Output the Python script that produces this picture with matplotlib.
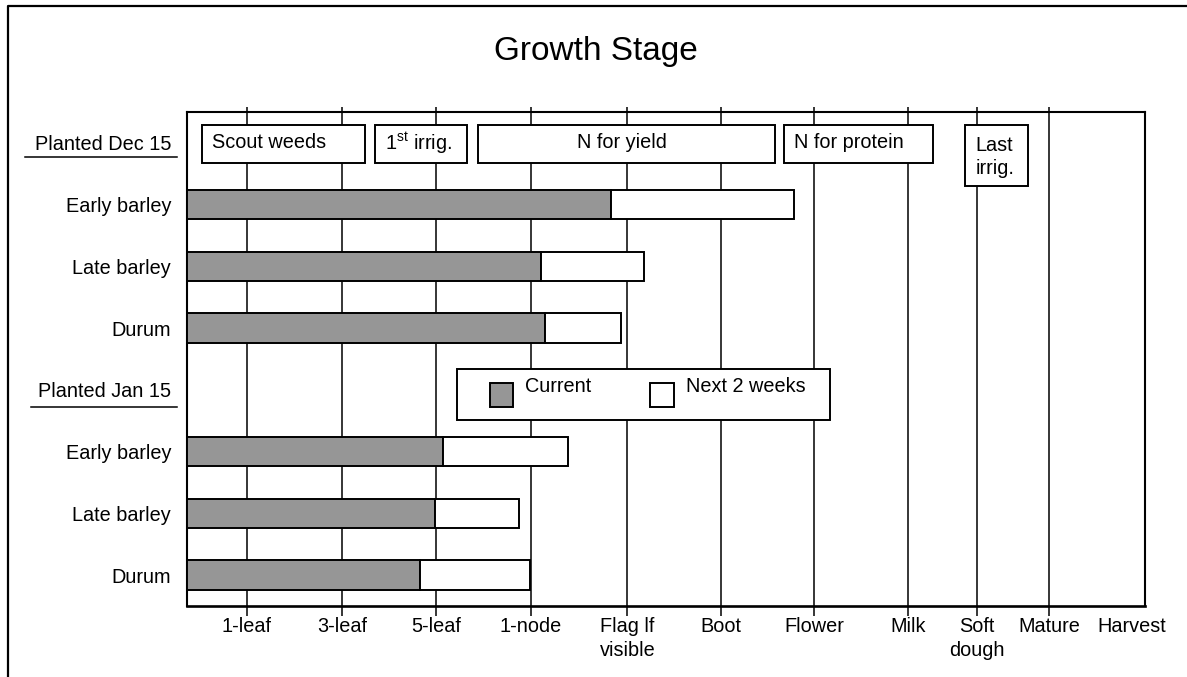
import matplotlib
matplotlib.use("Agg")
import matplotlib.pyplot as plt
from matplotlib.patches import Rectangle
from matplotlib.lines import Line2D

plt.rcParams['font.family'] = ['Liberation Sans', 'DejaVu Sans']
plt.rcParams['mathtext.fontset'] = 'custom'
plt.rcParams['mathtext.rm'] = 'Liberation Sans'
plt.rcParams['mathtext.it'] = 'Liberation Sans:italic'

# ---------------- data ----------------
stages = ["1-leaf", "3-leaf", "5-leaf", "1-node", "Flag lf\nvisible", "Boot",
          "Flower", "Milk", "Soft\ndough", "Mature", "Harvest"]
stage_pos = [6.26, 16.18, 26.02, 35.91, 45.98, 55.69, 65.45, 75.26, 82.49, 90.01, 98.59]

row_labels = ["Planted Dec 15", "Early barley", "Late barley", "Durum",
              "Planted Jan 15", "Early barley", "Late barley", "Durum"]
dec_rows = [1, 2, 3]
jan_rows = [5, 6, 7]
dec_current = [44.21, 36.93, 37.41]
dec_next = [63.36, 47.68, 45.26]
jan_current = [26.70, 25.90, 24.34]
jan_next = [39.80, 34.69, 35.80]

task_labels = ["Scout weeds", r"1$^{\mathrm{st}}$ irrig.", "N for yield", "N for protein", "Last\nirrig."]
task_start = [1.53, 19.62, 30.42, 62.27, 81.21]
task_end = [18.63, 29.22, 61.40, 77.82, 87.79]

GRAY = "#969696"

# ---------------- figure ----------------
W, H = 1187, 677
fig = plt.figure(figsize=(W / 100, H / 100), dpi=100)


def fx(px):
    return px / W


def fy(py):
    return 1 - py / H


ax = fig.add_axes([fx(187), fy(606), fx(1145) - fx(187), fy(112) - fy(606)])
ax.set_xlim(0, 100)
ax.set_ylim(7.5, -0.5)

FS = 14.3

# bars
bh = 0.48
for rows, cur, nxt in [(dec_rows, dec_current, dec_next), (jan_rows, jan_current, jan_next)]:
    ax.barh(rows, cur, height=bh, color=GRAY, edgecolor="black", linewidth=1.4, zorder=3)
    ax.barh(rows, [n - c for n, c in zip(nxt, cur)], left=cur, height=bh,
            color="white", edgecolor="black", linewidth=1.4, zorder=3)

# gridlines / ticks
ax.set_xticks(stage_pos, stages)
ax.grid(axis="x", color="black", linewidth=1.1)
ax.set_axisbelow(True)
ax.tick_params(axis="x", length=7.2, width=1.1, pad=1, labelsize=FS)
for lab in ax.get_xticklabels():
    lab.set_linespacing(1.3)
tk = ax.xaxis.get_major_ticks()
tk[-1].tick1line.set_visible(False)
tk[-1].gridline.set_visible(False)

sec = ax.secondary_xaxis("top")
sec.set_xticks(stage_pos[:-1])
sec.tick_params(length=3.8, width=1.1, labeltop=False)
sec.spines["top"].set_visible(False)

ax.set_yticks(range(len(row_labels)), row_labels)
ax.tick_params(axis="y", length=0, pad=11.5, labelsize=FS)

for s in ax.spines.values():
    s.set_linewidth(1.5)
ax.spines["bottom"].set_linewidth(1.9)

# task boxes on first row
for i, (lab, s, e) in enumerate(zip(task_labels, task_start, task_end)):
    top = 0.693 if "Last" in lab else 0.334
    ax.add_patch(Rectangle((s, -0.289), e - s, top + 0.289, facecolor="white",
                           edgecolor="black", linewidth=1.4, zorder=4))
    if lab == "N for yield":
        ax.text(45.4, 0.0, lab, ha="center", va="center", fontsize=FS, zorder=5)
    elif "Last" in lab:
        ax.annotate(lab, xy=(s, 0.232), xytext=(7.3, 0), textcoords="offset points",
                    ha="left", va="center", fontsize=FS, linespacing=1.3, zorder=5)
    else:
        ax.annotate(lab, xy=(s, 0.0), xytext=(7.3, 0), textcoords="offset points",
                    ha="left", va="center", fontsize=FS, zorder=5)

# legend (drawn manually to match)
ax.add_patch(Rectangle((28.21, 3.667), 67.12 - 28.21, 4.488 - 3.667, facecolor="white",
                       edgecolor="black", linewidth=1.4, zorder=5))
ax.add_patch(Rectangle((31.63, 3.893), 34.06 - 31.63, 4.272 - 3.893, facecolor=GRAY,
                       edgecolor="black", linewidth=1.4, zorder=6))
ax.add_patch(Rectangle((48.33, 3.893), 50.87 - 48.33, 4.272 - 3.893, facecolor="white",
                       edgecolor="black", linewidth=1.4, zorder=6))
ax.text(35.28, 4.03, "Current", ha="left", va="baseline", fontsize=FS, zorder=7)
ax.text(52.09, 4.03, "Next 2 weeks", ha="left", va="baseline", fontsize=FS, zorder=7)

# underlines for group headers
for x0, yy in [(25, 156.7), (31.4, 406.7)]:
    fig.add_artist(Line2D([fx(x0), fx(177)], [fy(yy), fy(yy)], color="black", linewidth=1.1))

# title
fig.text(fx(596), fy(60), "Growth Stage", ha="center", va="baseline", fontsize=24)

# outer frame (top and left visible)
fig.add_artist(Line2D([fx(8.4), fx(8.4), fx(1190)], [fy(690), fy(6), fy(6)],
                      color="black", linewidth=1.6))

fig.savefig("out.png", dpi=100)
